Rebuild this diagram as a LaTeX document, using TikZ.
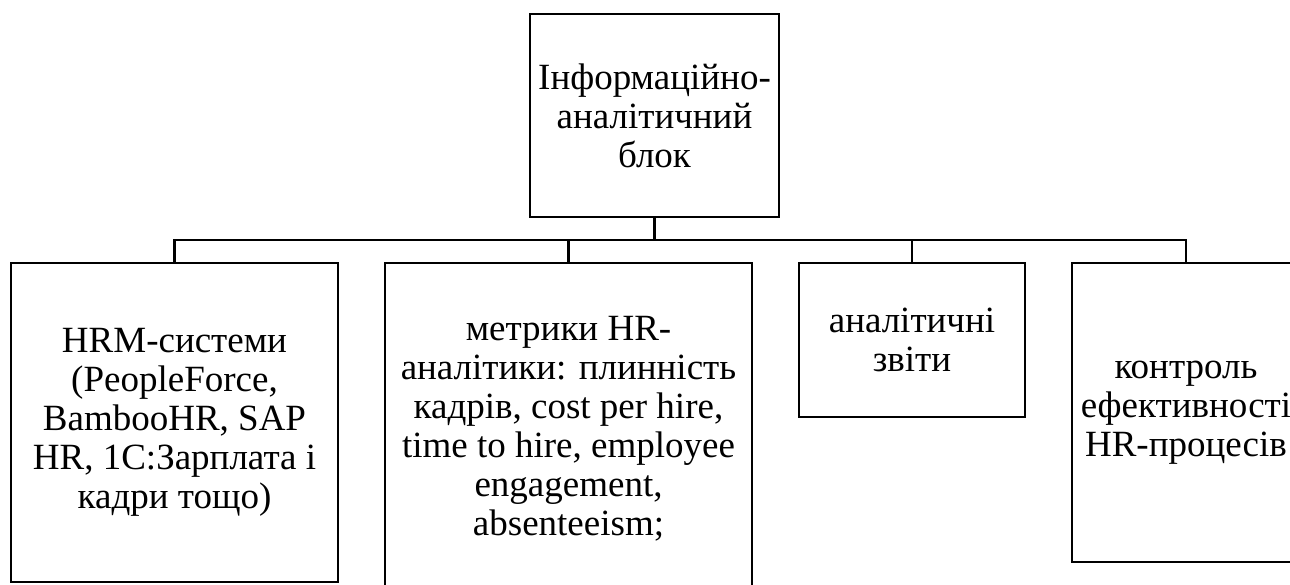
\documentclass[tikz,border=0pt]{standalone}
\usepackage{fontspec}
\setmainfont{Liberation Serif}
\usetikzlibrary{positioning}

\begin{document}
\begin{tikzpicture}[x=0.5pt, y=-0.5pt, line width=1.25pt,
  blok/.style={draw, inner sep=0pt, align=center, font=\fontsize{18.5}{19.5}\selectfont}]
  \useasboundingbox (0,0) rectangle (1290,584);
  \clip (0,0) rectangle (1290,584);
  \node[blok, minimum width=124.5pt, minimum height=101.5pt] (top) at (654.5,115.5) {Інформаційно-\\аналітичний\\блок};
  \node[blok, minimum width=163.5pt, minimum height=159.5pt] (hrm) at (174.5,422.5) {HRM-системи\\(PeopleForce,\\BambooHR, SAP\\HR, 1C:Зарплата і\\кадри тощо)};
  \node[blok, minimum width=183.5pt, minimum height=166pt] (metr) at (568.5,429) {метрики HR-\\аналітики: плинність\\кадрів, cost per hire,\\time to hire, employee\\engagement,\\absenteeism;};
  \node[blok, minimum width=113pt, minimum height=77pt] (zvit) at (912,340) {аналітичні\\звіти};
  \node[blok, minimum width=114pt, minimum height=149.5pt] (kontr) at (1186,412.5) {контроль\\ефективності\\HR-процесів};
  \coordinate (bus) at (654.5,240);
  \draw (top.south) -- (bus);
  \draw (hrm.north) |- (bus) -| (kontr.north);
  \draw (metr.north) -- (metr.north |- bus);
  \draw (zvit.north) -- (zvit.north |- bus);
\end{tikzpicture}
\end{document}
